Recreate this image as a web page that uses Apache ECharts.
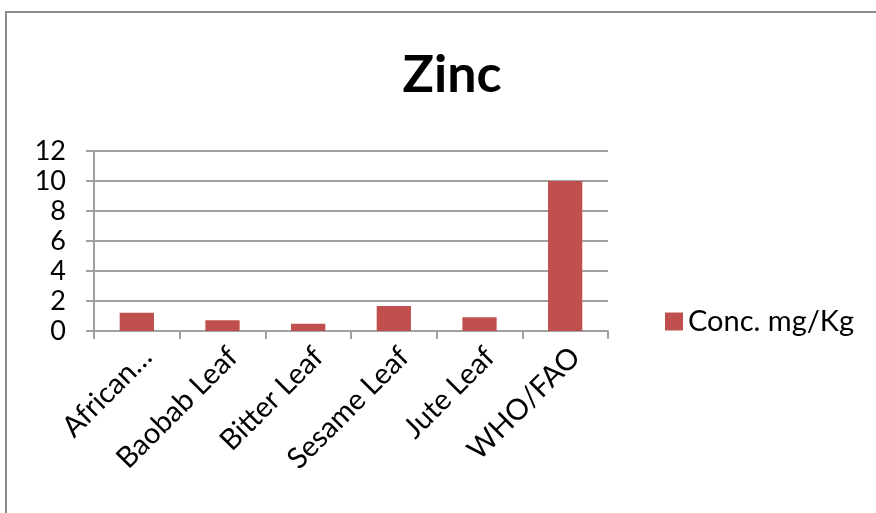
<!DOCTYPE html>
<html>
<head>
<meta charset="utf-8">
<script src="https://cdn.jsdelivr.net/npm/echarts@6/dist/echarts.min.js"></script>
<style>
  html, body { margin: 0; padding: 0; background: #fff; }
  #chart { width: 876px; height: 513px; }
</style>
</head>
<body>
<div id="chart"></div>
<script>
// zinc concentrations
var categories = ['African…', 'Baobab Leaf', 'Bitter Leaf', 'Sesame Leaf', 'Jute Leaf', 'WHO/FAO'];
var concValues = [1.22, 0.71, 0.49, 1.67, 0.91, 10];
var seriesName = 'Conc. mg/Kg';

var font = 'Lato, "Open Sans", sans-serif';
var chart = echarts.init(document.getElementById('chart'));

chart.setOption({
    backgroundColor: '#fff',
    animation: false,
    title: {
        text: 'Zinc',
        left: 447,
        top: 44,
        textAlign: 'center',
        textStyle: { fontFamily: font, fontSize: 52, fontWeight: 'bold', color: '#000' }
    },
    legend: {
        data: [seriesName],
        left: 660,
        top: 302,
        itemWidth: 18,
        itemHeight: 18,
        itemGap: 8,
        icon: 'rect',
        textStyle: { fontFamily: font, fontSize: 29, color: '#000' }
    },
    grid: { left: 94, right: 268, top: 151, bottom: 182 },
    xAxis: {
        type: 'category',
        data: categories,
        axisLine: { lineStyle: { color: '#a0a0a0', width: 2 } },
        axisTick: { show: true, length: 8, lineStyle: { color: '#a0a0a0', width: 2 } },
        axisLabel: { rotate: 45, interval: 0, margin: 11, verticalAlign: 'top',
            fontFamily: font, fontSize: 29, color: '#000' }
    },
    yAxis: {
        type: 'value',
        min: 0,
        max: 12,
        interval: 2,
        axisLine: { show: true, lineStyle: { color: '#a0a0a0', width: 2 } },
        axisTick: { show: true, length: 8, lineStyle: { color: '#a0a0a0', width: 2 } },
        axisLabel: { margin: 28, fontFamily: font, fontSize: 27, color: '#000' },
        splitLine: { lineStyle: { color: '#a0a0a0', width: 2 } }
    },
    series: [{
        name: seriesName,
        type: 'bar',
        data: concValues,
        barWidth: '40%',
        itemStyle: { color: '#c0504d' }
    }],
    graphic: [{
        type: 'rect',
        shape: { x: 6, y: 12, width: 900, height: 600 },
        style: { fill: 'none', stroke: '#8c8c8c', lineWidth: 2 },
        silent: true
    }]
});
</script>
</body>
</html>
